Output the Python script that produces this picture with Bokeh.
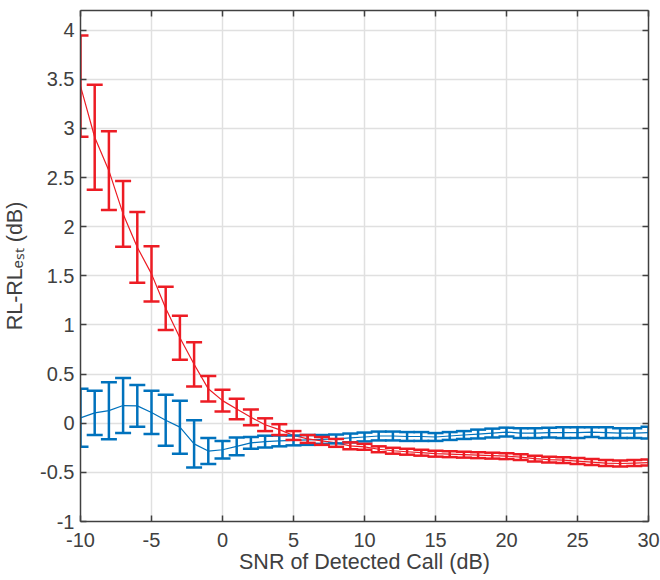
from bokeh.plotting import figure
from bokeh.models import (Range1d, FixedTicker, LinearAxis, Whisker, TeeHead,
                          ColumnDataSource, CustomJSTickFormatter)
from bokeh.embed import file_html
from bokeh.resources import INLINE

# ---------------- data ----------------
snr = list(range(-10, 31))

red_mean = [3.43, 2.91, 2.57, 2.13, 1.79, 1.52, 1.17, 0.87, 0.60, 0.35,
            0.23, 0.145, 0.06, -0.015, -0.065, -0.125, -0.16, -0.18, -0.20, -0.23,
            -0.24, -0.265, -0.28, -0.29, -0.30, -0.31, -0.315, -0.32, -0.325, -0.33,
            -0.335, -0.345, -0.36, -0.37, -0.375, -0.385, -0.395, -0.405, -0.41, -0.405,
            -0.40]
red_err = [0.515, 0.535, 0.40, 0.335, 0.36, 0.28, 0.22, 0.225, 0.225, 0.13,
           0.11, 0.105, 0.08, 0.065, 0.055, 0.045, 0.04, 0.04, 0.04, 0.035,
           0.03, 0.03, 0.03, 0.03, 0.03, 0.03, 0.03, 0.03, 0.03, 0.03,
           0.03, 0.03, 0.03, 0.03, 0.03, 0.03, 0.03, 0.03, 0.03, 0.03,
           0.03]

blue_mean = [0.055, 0.105, 0.128, 0.18, 0.177, 0.11, 0.03, -0.04, -0.21, -0.283,
             -0.27, -0.235, -0.20, -0.187, -0.18, -0.175, -0.17, -0.165, -0.16, -0.15,
             -0.14, -0.13, -0.13, -0.135, -0.135, -0.14, -0.13, -0.12, -0.11, -0.10,
             -0.09, -0.10, -0.10, -0.095, -0.095, -0.095, -0.09, -0.095, -0.10, -0.10,
             -0.095]
blue_err = [0.295, 0.225, 0.29, 0.28, 0.213, 0.22, 0.26, 0.27, 0.24, 0.133,
            0.09, 0.09, 0.06, 0.06, 0.055, 0.05, 0.05, 0.045, 0.045, 0.045,
            0.045, 0.045, 0.045, 0.045, 0.045, 0.04, 0.04, 0.04, 0.045, 0.045,
            0.045, 0.05, 0.05, 0.05, 0.055, 0.055, 0.05, 0.055, 0.05, 0.05,
            0.06]

x_ticks = [-10, -5, 0, 5, 10, 15, 20, 25, 30]
x_tick_labels = ["-10", "-5", "0", "5", "10", "15", "20", "25", "30"]
y_ticks = [-1, -0.5, 0, 0.5, 1, 1.5, 2, 2.5, 3, 3.5, 4]
y_tick_labels = ["-1", "-0.5", "0", "0.5", "1", "1.5", "2", "2.5", "3", "3.5", "4"]

x_label = "SNR of Detected Call (dB)"
y_label = "RL-RL\u2091\u209b\u209c (dB)"

RED = "#ED1C24"
BLUE = "#0072BD"
INK = "#404040"
FONT = "Liberation Sans"

# ---------------- layout ----------------
W, H = 660, 580
BL, BR, BT, BB = 80, 12, 10, 59
X0, X1, Y0, Y1 = -10, 30, -1, 4.2

p = figure(width=W, height=H, x_range=Range1d(X0, X1), y_range=Range1d(Y0, Y1),
           output_backend="svg", toolbar_location=None,
           min_border_left=BL, min_border_right=BR, min_border_top=BT, min_border_bottom=BB,
           background_fill_color="white", border_fill_color="white")
p.outline_line_color = None

# grid
p.xgrid.ticker = FixedTicker(ticks=x_ticks)
p.ygrid.ticker = FixedTicker(ticks=y_ticks)
for g in (p.xgrid[0], p.ygrid[0]):
    g.grid_line_color = "#e0e0e0"
    g.grid_line_width = 1.5

# main axes
xa = p.xaxis[0]
ya = p.yaxis[0]
xa.ticker = FixedTicker(ticks=x_ticks)
ya.ticker = FixedTicker(ticks=y_ticks)
xa.major_label_overrides = {t: l for t, l in zip(x_ticks, x_tick_labels)}
ya.major_label_overrides = {t: l for t, l in zip(y_ticks, y_tick_labels)}
for ax in (xa, ya):
    ax.axis_line_color = INK
    ax.axis_line_width = 1.5
    ax.major_tick_line_color = INK
    ax.major_tick_line_width = 1.5
    ax.major_tick_in = 6
    ax.major_tick_out = 0
    ax.minor_tick_line_color = None
    ax.major_label_text_font = FONT
    ax.major_label_text_font_size = "20px"
    ax.major_label_text_color = INK
    ax.axis_label_text_font = FONT
    ax.axis_label_text_font_size = "21.5px"
    ax.axis_label_text_font_style = "normal"
    ax.axis_label_text_color = INK
xa.major_label_standoff = 11
ya.major_label_standoff = 6
xa.axis_label = x_label
ya.axis_label = y_label
xa.axis_label_standoff = 0
ya.axis_label_standoff = 10

# box: top and right axes with inward ticks only
for loc, tks in (("above", x_ticks), ("right", y_ticks)):
    ax = LinearAxis(ticker=FixedTicker(ticks=tks),
                    formatter=CustomJSTickFormatter(code="return ''"),
                    major_tick_in=6, major_tick_out=0,
                    major_label_text_font_size="0px", major_label_standoff=0,
                    axis_line_color=INK, axis_line_width=1.5,
                    major_tick_line_color=INK, major_tick_line_width=1.5,
                    minor_tick_line_color=None)
    p.add_layout(ax, loc)

# ---------------- series ----------------
def add_series(mean, err, color):
    src = ColumnDataSource(dict(
        x=snr, mean=mean,
        upper=[m + e for m, e in zip(mean, err)],
        lower=[m - e for m, e in zip(mean, err)]))
    w = Whisker(source=src, base="x", upper="upper", lower="lower",
                line_color=color, line_width=2.5, level="glyph",
                upper_head=TeeHead(size=16, line_color=color, line_width=2.5),
                lower_head=TeeHead(size=16, line_color=color, line_width=2.5))
    p.add_layout(w)
    p.line(x="x", y="mean", source=src, line_color=color, line_width=1.2)


add_series(blue_mean, blue_err, BLUE)
add_series(red_mean, red_err, RED)

open("out.html", "w").write(file_html(p, INLINE))
